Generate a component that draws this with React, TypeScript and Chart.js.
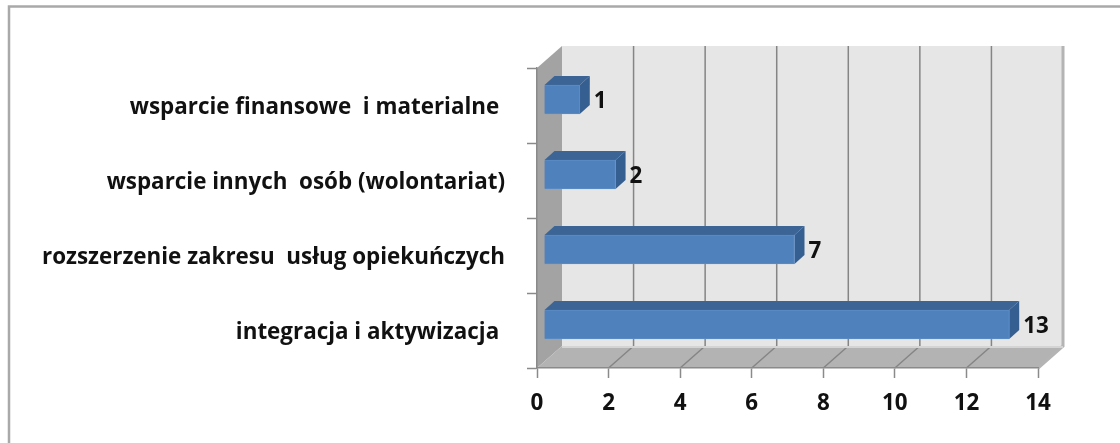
import React, { useEffect, useRef } from "react";
import { Chart, registerables } from "chart.js";

Chart.register(...registerables);

const categories = [
  "wsparcie finansowe  i materialne ",
  "wsparcie innych  osób (wolontariat)",
  "rozszerzenie zakresu  usług opiekuńczych",
  "integracja i aktywizacja ",
];
const seriesValues = [1, 2, 7, 13];
const tickStep = 2;
const axisMax = 14;

const FONT = '"Open Sans", sans-serif';
const FONT_SIZE = 22.4;
const DEPTH_X = 25;
const DEPTH_Y = 22;
const BAR_SHIFT_X = 7;
const BAR_SHIFT_Y = -6;
const BAR_DEPTH_X = 10;
const BAR_DEPTH_Y = 9;

const poly = (ctx: CanvasRenderingContext2D, pts: number[][], fill: string) => {
  ctx.beginPath();
  pts.forEach((p, i) => (i ? ctx.lineTo(p[0], p[1]) : ctx.moveTo(p[0], p[1])));
  ctx.closePath();
  ctx.fillStyle = fill;
  ctx.fill();
};

const frame = {
  id: "frame",
  beforeDraw(chart: any) {
    const { ctx, width, height, chartArea: a, scales } = chart;
    ctx.save();
    ctx.fillStyle = "#fff";
    ctx.fillRect(0, 0, width, height);
    ctx.strokeStyle = "#a9a9a9";
    ctx.lineWidth = 2.5;
    ctx.beginPath();
    ctx.moveTo(9, height);
    ctx.lineTo(9, 6.5);
    ctx.lineTo(width, 6.5);
    ctx.stroke();

    const { left: l, right: r, top: t, bottom: b } = a;
    const dx = DEPTH_X, dy = DEPTH_Y;
    poly(ctx, [[l + dx, t - dy], [r + dx, t - dy], [r + dx, b - dy], [l + dx, b - dy]], "#e6e6e6");
    poly(ctx, [[l, t], [l + dx, t - dy], [l + dx, b - dy], [l, b]], "#a3a3a3");
    poly(ctx, [[l, b], [l + dx, b - dy], [r + dx, b - dy], [r, b]], "#b3b3b3");

    for (let v = tickStep; v <= axisMax; v += tickStep) {
      const x = scales.x.getPixelForValue(v);
      ctx.beginPath();
      ctx.moveTo(x, b);
      ctx.lineTo(x + dx, b - dy);
      ctx.lineTo(x + dx, t - dy);
      ctx.strokeStyle = v === axisMax ? "#b4b4b4" : "#858585";
      ctx.lineWidth = v === axisMax ? 3 : 1.5;
      ctx.stroke();
    }
    ctx.beginPath();
    ctx.moveTo(l + dx, b - dy + 1);
    ctx.lineTo(r + dx, b - dy + 1);
    ctx.strokeStyle = "#d4d4d4";
    ctx.lineWidth = 2;
    ctx.stroke();
    ctx.restore();
  },
};

const bars3d = {
  id: "bars3d",
  beforeDatasetDraw(chart: any) {
    const { ctx } = chart;
    ctx.save();
    ctx.translate(BAR_SHIFT_X, BAR_SHIFT_Y);
    chart.getDatasetMeta(0).data.forEach((bar: any) => {
      const { x, y, base, height: h } = bar.getProps(["x", "y", "base", "height"], true);
      const top = y - h / 2;
      const bottom = y + h / 2;
      const ddx = BAR_DEPTH_X, ddy = BAR_DEPTH_Y;
      poly(ctx, [[base, top], [base + ddx, top - ddy], [x + ddx, top - ddy], [x, top]], "#3c6596");
      poly(ctx, [[x, top], [x + ddx, top - ddy], [x + ddx, bottom - ddy], [x, bottom]], "#365f91");
    });
  },
  afterDatasetDraw(chart: any) {
    const { ctx } = chart;
    ctx.restore();
    ctx.save();
    ctx.fillStyle = "#111";
    ctx.font = `bold ${FONT_SIZE}px ${FONT}`;
    ctx.textAlign = "left";
    ctx.textBaseline = "middle";
    chart.getDatasetMeta(0).data.forEach((bar: any, i: number) => {
      ctx.fillText(String(seriesValues[i]), bar.x + BAR_SHIFT_X + BAR_DEPTH_X + 4, bar.y + BAR_SHIFT_Y + 2);
    });
    ctx.restore();
  },
};

export default function App() {
  const ref = useRef<HTMLCanvasElement>(null);
  useEffect(() => {
    const chart = new Chart(ref.current!, {
      type: "bar",
      data: {
        labels: categories,
        datasets: [
          {
            data: seriesValues,
            backgroundColor: "#4f81bd",
            borderColor: "#5b8cc6",
            borderWidth: 1,
            barThickness: 29,
          },
        ],
      },
      options: {
        indexAxis: "y",
        responsive: false,
        animation: false,
        layout: { padding: { left: 0, right: 82, top: 68, bottom: 0 } },
        plugins: { legend: { display: false }, tooltip: { enabled: false } },
        scales: {
          x: {
            min: 0,
            max: axisMax,
            afterFit: (s: any) => { s.height = 75; },
            border: { color: "#8a8a8a", width: 1.5 },
            grid: { drawOnChartArea: false, drawTicks: true, tickLength: 10, tickColor: "#8a8a8a", tickWidth: 1.5 },
            ticks: {
              stepSize: tickStep,
              padding: 12,
              maxRotation: 0,
              color: "#111",
              font: { family: FONT, size: FONT_SIZE, weight: "bold" },
            },
          },
          y: {
            afterFit: (s: any) => { s.width = 537; },
            border: { color: "#8a8a8a", width: 1.5 },
            grid: { drawOnChartArea: false, drawTicks: true, tickLength: 10, tickColor: "#8a8a8a", tickWidth: 1.5 },
            ticks: {
              padding: 22,
              autoSkip: false,
              labelOffset: 2,
              color: "#111",
              font: { family: FONT, size: FONT_SIZE, weight: "bold" },
            },
          },
        },
      },
      plugins: [frame, bars3d],
    } as any);
    return () => chart.destroy();
  }, []);
  return (
    <div style={{ position: "absolute", left: 0, top: 0, width: 1120, height: 443 }}>
      <canvas ref={ref} width={1120} height={443} style={{ display: "block", filter: "blur(0.6px)" }} />
    </div>
  );
}
